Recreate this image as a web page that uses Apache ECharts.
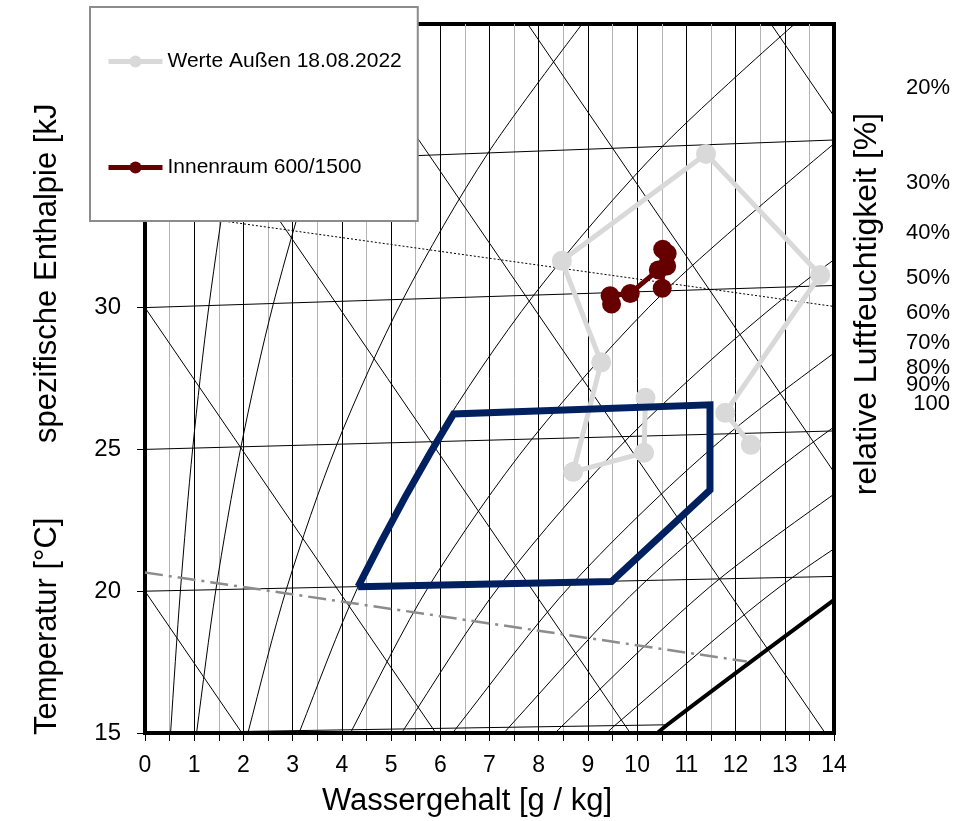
<!DOCTYPE html>
<html>
<head>
<meta charset="utf-8">
<script src="https://cdn.jsdelivr.net/npm/echarts/dist/echarts.min.js"></script>
<style>
  html, body { margin: 0; padding: 0; background: #fff; }
  #chart { width: 960px; height: 821px; }
</style>
</head>
<body>
<div id="chart"></div>
<script>
// y axis tick labels that are visible (35 / 40 sit under the legend)
const yTickLabels = [15, 20, 25, 30]

// isotherms (nearly horizontal), [x g/kg, y]
const isotherms = [
  [[0, 15], [10.62, 15.29]],
  [[0, 20], [14, 20.52]],
  [[0, 25], [14, 25.65]],
  [[0, 30], [14, 30.78]],
  [[0, 35], [14, 35.91]]
]

// lines of constant enthalpy (falling to the right)
const enthalpyLines = [
  [[0, 20], [1.97, 15]],
  [[0, 30], [5.91, 15]],
  [[0, 40], [9.86, 15]],
  [[0, 50], [13.82, 15]],
  [[0, 59.74], [14, 24.2]],
  [[12.72, 40], [14, 36.75]]
]

// relative humidity curves
const rh5 = [[0.49, 14.01], [0.52, 15.01], [0.72, 20.03], [0.97, 25.05], [1.30, 30.07], [1.73, 35.11], [2.27, 40.17]]
const rh10 = [[0.98, 14.03], [1.05, 15.03], [1.44, 20.05], [1.95, 25.09], [2.61, 30.15], [3.46, 35.22], [4.56, 40.34]]
const rh20 = [[1.97, 14.05], [2.10, 15.06], [2.88, 20.11], [3.90, 25.18], [5.24, 30.29], [6.97, 35.45], [9.18, 40.68]]
const rh30 = [[2.95, 14.08], [3.15, 15.09], [4.33, 20.16], [5.87, 25.27], [7.90, 30.44], [10.51, 35.68], [13.87, 41.03]]
const rh40 = [[3.94, 14.10], [4.21, 15.12], [5.78, 20.21], [7.86, 25.36], [10.57, 30.59], [14.09, 35.91]]
const rh50 = [[4.94, 14.13], [5.27, 15.15], [7.24, 20.27], [9.85, 25.46], [13.27, 30.74], [17.72, 36.15]]
const rh60 = [[5.93, 14.15], [6.33, 15.18], [8.71, 20.32], [11.86, 25.55], [15.99, 30.89]]
const rh70 = [[6.93, 14.18], [7.40, 15.21], [10.19, 20.38], [13.88, 25.64], [18.74, 31.04]]
const rh80 = [[7.93, 14.21], [8.47, 15.24], [11.67, 20.43], [15.92, 25.74]]
const rh90 = [[8.94, 14.23], [9.55, 15.27], [13.16, 20.49], [17.96, 25.83]]
const rh100 = [[9.95, 14.26], [10.62, 15.30], [14.66, 20.54]]

const dottedLine = [[0, 33.44], [14, 30.04]]
const dashDotLine = [[0, 20.66], [12.23, 17.52]]

// comfort zone
const comfortZone = [[4.33, 20.16], [4.80, 21.75], [5.28, 23.30], [5.78, 24.83], [6.27, 26.25],
  [11.48, 26.57], [11.48, 23.57], [9.48, 20.34], [4.33, 20.16]]

// measured values
const outsideValues = [[10.17, 26.82], [10.14, 24.88], [8.70, 24.21], [9.27, 28.07], [8.47, 31.65],
  [11.40, 35.42], [13.72, 31.15], [11.79, 26.29], [12.31, 25.16]]
const roomValues = [[9.48, 30.13], [9.45, 30.42], [9.86, 30.50], [10.43, 31.33], [10.60, 31.47],
  [10.61, 31.91], [10.52, 32.06], [10.51, 30.68]]

// labels right of the chart
const rhLabels = ['20%', '30%', '40%', '50%', '60%', '70%', '80%', '90%', '100']
const rhLabelLevels = [37.75, 34.4, 32.62, 31.03, 29.8, 28.74, 27.88, 27.26, 26.6]

const FONT = '"Liberation Sans", Arial, sans-serif'
const chart = echarts.init(document.getElementById('chart'))

const thinLine = (data, extra) => Object.assign({
  type: 'line',
  data: data,
  symbol: 'none',
  silent: true,
  animation: false,
  z: 1,
  clip: true,
  lineStyle: { color: '#000', width: 1 }
}, extra || {})

const series = []
isotherms.forEach(d => series.push(thinLine(d)))
enthalpyLines.forEach(d => series.push(thinLine(d)))
;[rh5, rh10, rh20, rh30, rh40, rh50, rh60, rh70, rh80, rh90].forEach(d => series.push(thinLine(d, { smooth: 0.3 })))
series.push(thinLine(rh100, { smooth: 0.3, lineStyle: { color: '#000', width: 4 } }))
series.push(thinLine(dottedLine, { lineStyle: { color: '#000', width: 1, type: [2, 2] } }))
series.push(thinLine(dashDotLine, { lineStyle: { color: '#8c8c8c', width: 2.5, type: [18, 6, 3, 6] } }))

series.push({
  name: 'Werte Außen 18.08.2022',
  type: 'line',
  data: outsideValues,
  symbol: 'circle',
  symbolSize: 20,
  animation: false,
  z: 3,
  itemStyle: { color: '#d9d9d9' },
  lineStyle: { color: '#d9d9d9', width: 5 }
})
series.push({
  name: 'Komfortbereich',
  type: 'line',
  data: comfortZone,
  symbol: 'none',
  animation: false,
  z: 4,
  lineStyle: { color: '#002060', width: 7, join: 'miter' }
})
series.push({
  name: 'Innenraum 600/1500',
  type: 'line',
  data: roomValues,
  symbol: 'circle',
  symbolSize: 19,
  animation: false,
  z: 5,
  itemStyle: { color: '#660000' },
  lineStyle: { color: '#660000', width: 5 }
})

const option = {
  backgroundColor: '#fff',
  animation: false,
  grid: {
    left: 145, right: 126, top: 24, bottom: 88,
    show: true, borderColor: '#000', borderWidth: 4
  },
  legend: {
    data: ['Werte Außen 18.08.2022', 'Innenraum 600/1500'],
    orient: 'vertical',
    left: 90,
    top: 7,
    z: 10,
    backgroundColor: '#fff',
    borderColor: '#8c8c8c',
    borderWidth: 2,
    padding: [44, 16, 43, 16],
    itemGap: 85,
    itemWidth: 54,
    itemHeight: 15,
    lineStyle: { width: 5 },
    textStyle: { fontSize: 21, color: '#000', fontFamily: FONT }
  },
  xAxis: {
    type: 'value',
    min: 0,
    max: 14,
    interval: 1,
    axisLine: { show: true, onZero: false, lineStyle: { color: '#000', width: 4 } },
    axisTick: { show: true, length: 8, lineStyle: { color: '#000', width: 1 } },
    minorTick: { show: true, splitNumber: 2, length: 8, lineStyle: { color: '#000', width: 1 } },
    splitLine: { show: true, lineStyle: { color: '#000', width: 1 } },
    minorSplitLine: { show: true, lineStyle: { color: '#b4b4b4', width: 1 } },
    axisLabel: { color: '#000', fontSize: 23, margin: 21, fontFamily: FONT }
  },
  yAxis: {
    type: 'value',
    min: 15,
    max: 40,
    interval: 5,
    axisLine: { show: true, onZero: false, lineStyle: { color: '#000', width: 4 } },
    axisTick: { show: true, length: 8, lineStyle: { color: '#000', width: 1 } },
    splitLine: { show: false },
    axisLabel: {
      color: '#000', fontSize: 24, margin: 24, fontFamily: FONT,
      formatter: v => (yTickLabels.includes(v) ? String(v) : '')
    }
  },
  series: series
}

chart.setOption(option)

// axis titles and the humidity labels on the right
const graphics = [
  { type: 'text', x: 467, y: 801, style: { text: 'Wassergehalt [g / kg]', font: '31px ' + FONT, fill: '#000', align: 'center', verticalAlign: 'middle' } },
  { type: 'text', x: 47, y: 735, rotation: Math.PI / 2, style: { text: 'Temperatur [°C]', font: '31px ' + FONT, fill: '#000', align: 'left', verticalAlign: 'middle' } },
  { type: 'text', x: 47, y: 443, rotation: Math.PI / 2, style: { text: 'spezifische Enthalpie [kJ', font: '31px ' + FONT, fill: '#000', align: 'left', verticalAlign: 'middle' } },
  { type: 'text', x: 867, y: 304, rotation: Math.PI / 2, style: { text: 'relative Luftfeuchtigkeit [%]', font: '32px ' + FONT, fill: '#000', align: 'center', verticalAlign: 'middle' } }
]
rhLabels.forEach((t, i) => {
  const py = chart.convertToPixel({ yAxisIndex: 0 }, rhLabelLevels[i])
  graphics.push({ type: 'text', x: 950, y: py, style: { text: t, font: '22px ' + FONT, fill: '#000', align: 'right', verticalAlign: 'middle' } })
})
chart.setOption({ graphic: graphics })
</script>
</body>
</html>
